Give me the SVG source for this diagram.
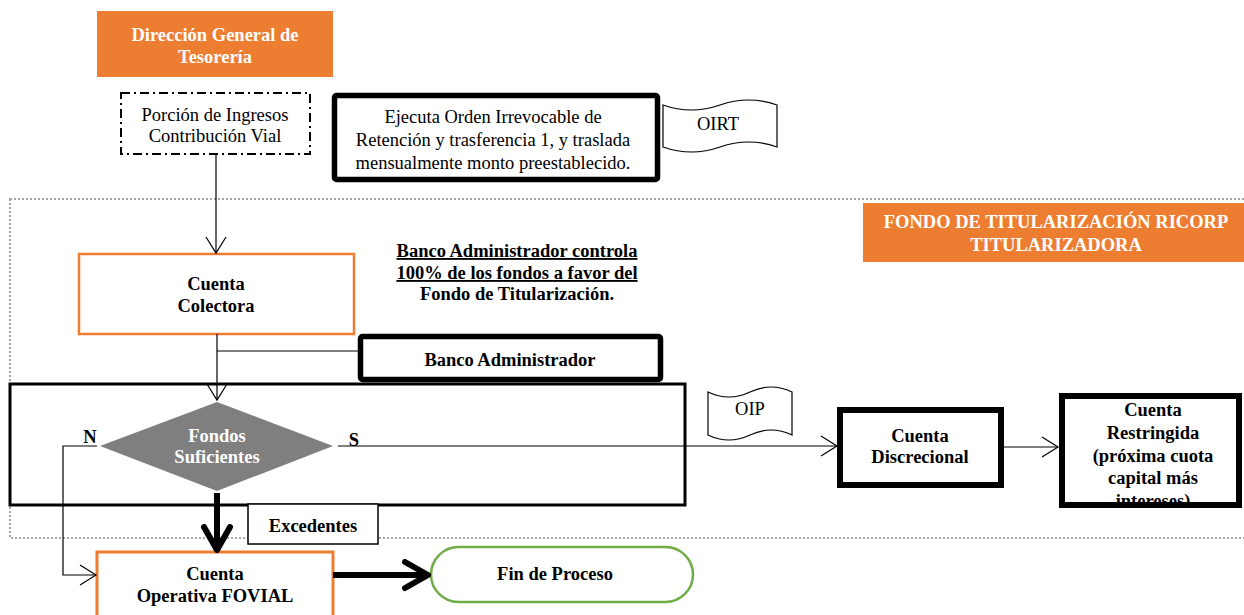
<svg xmlns="http://www.w3.org/2000/svg" width="1244" height="615" viewBox="0 0 1244 615">
<style>
text{font-family:"Liberation Serif","Times New Roman",serif;font-size:18.5px;fill:#000;text-anchor:middle}
.b{font-weight:bold}
.w{fill:#fff}
.u{text-decoration:underline}
.thin{fill:none;stroke:#000;stroke-width:1.2}
.thick{fill:none;stroke:#000;stroke-width:6}
.orange{fill:#fff;stroke:#ED7D31;stroke-width:2.5}
.heavy{fill:#fff;stroke:#000;stroke-width:5.5}
</style>
<defs>
<marker id="open" markerUnits="userSpaceOnUse" markerWidth="20" markerHeight="24" refX="17" refY="11" orient="auto">
<path d="M1,1 L17,11 L1,21" fill="none" stroke="#000" stroke-width="1.2"/>
</marker>
<marker id="bold" markerUnits="userSpaceOnUse" markerWidth="32" markerHeight="36" refX="26" refY="16" orient="auto">
<path d="M3,3 L26,16 L3,29" fill="none" stroke="#000" stroke-width="6" stroke-linecap="round" stroke-linejoin="round"/>
</marker>
<clipPath id="clipR"><rect x="1062" y="396" width="177" height="106"/></clipPath>
</defs>

<rect id="frame" x="10" y="199" width="1250" height="339" fill="none" stroke="#A6A6A6" stroke-width="2" stroke-dasharray="2 2"/>

<g id="dgt">
<rect x="97" y="11" width="236" height="66" fill="#ED7D31"/>
<text class="b w" x="215" y="41">Dirección General de</text>
<text class="b w" x="215" y="63">Tesorería</text>
</g>

<g id="porcion">
<rect x="121" y="93" width="189" height="61" fill="#fff" stroke="#000" stroke-width="2" stroke-dasharray="9 4 2 4"/>
<text x="215" y="121">Porción de Ingresos</text>
<text x="215" y="142">Contribución Vial</text>
</g>

<g id="ejecuta">
<rect class="heavy" x="334.5" y="95.5" width="323" height="84" rx="2"/>
<text x="493" y="123">Ejecuta Orden Irrevocable de</text>
<text x="493" y="146">Retención y trasferencia 1, y traslada</text>
<text x="493" y="169">mensualmente monto preestablecido.</text>
</g>

<g id="oirt">
<path d="M663,105 Q691.5,115 720,105 T777,105 L777,147 Q748.5,137 720,147 T663,147 Z" fill="#fff" stroke="#000" stroke-width="1.2"/>
<text x="718" y="130">OIRT</text>
</g>

<g id="fondo">
<rect x="863" y="203" width="385" height="59" fill="#ED7D31"/>
<text class="b w" x="1056" y="228">FONDO DE TITULARIZACIÓN RICORP</text>
<text class="b w" x="1056" y="251">TITULARIZADORA</text>
</g>

<g id="nota">
<text class="b u" x="517" y="257">Banco Administrador controla</text>
<text class="b u" x="517" y="279">100% de los fondos a favor del</text>
<text class="b" x="517" y="300">Fondo de Titularización.</text>
</g>

<g id="colectora">
<rect class="orange" x="79" y="254" width="275" height="80"/>
<text class="b" x="216" y="290">Cuenta</text>
<text class="b" x="216" y="312">Colectora</text>
</g>

<g id="bancoadmin">
<rect class="heavy" x="360.5" y="336.5" width="300" height="43" rx="2"/>
<text class="b" x="510" y="366">Banco Administrador</text>
</g>

<g id="banco">
<rect x="10" y="384" width="675" height="121" fill="none" stroke="#000" stroke-width="3"/>
</g>

<g id="decision">
<polygon points="100,446 217,402 333,446 217,491" fill="#7F7F7F"/>
<text class="b w" x="217" y="442">Fondos</text>
<text class="b w" x="217" y="463">Suficientes</text>
<text class="b" x="90" y="443">N</text>
<text class="b" x="354" y="446">S</text>
</g>

<g id="oip">
<path d="M708,392 Q729,402 750,392 T792,392 L792,435 Q771,425 750,435 T708,435 Z" fill="#fff" stroke="#000" stroke-width="1.2"/>
<text x="750" y="415">OIP</text>
</g>

<g id="discrecional">
<rect x="840" y="410" width="161" height="75" fill="#fff" stroke="#000" stroke-width="6"/>
<text class="b" x="920" y="442">Cuenta</text>
<text class="b" x="920" y="463">Discrecional</text>
</g>

<g id="restringida">
<rect x="1062" y="396" width="177" height="109" fill="#fff"/>
<g clip-path="url(#clipR)">
<text class="b" x="1153" y="416">Cuenta</text>
<text class="b" x="1153" y="439">Restringida</text>
<text class="b" x="1153" y="462">(próxima cuota</text>
<text class="b" x="1153" y="484">capital más</text>
<text class="b" x="1153" y="507">intereses)</text>
</g>
<rect x="1062" y="396" width="177" height="109" fill="none" stroke="#000" stroke-width="6"/>
</g>

<g id="excedentes">
<rect x="248" y="504" width="130" height="40" fill="#fff" stroke="#000" stroke-width="1.5"/>
<text class="b" x="313" y="532">Excedentes</text>
</g>

<g id="operativa">
<rect x="97" y="552" width="236" height="80" fill="#fff" stroke="#ED7D31" stroke-width="3"/>
<text class="b" x="215" y="580">Cuenta</text>
<text class="b" x="215" y="602">Operativa FOVIAL</text>
</g>

<g id="fin">
<rect x="431" y="547" width="262" height="55" rx="27.5" fill="#fff" stroke="#70AD47" stroke-width="2.5"/>
<text class="b" x="555" y="580">Fin de Proceso</text>
</g>

<g id="connectors">
<path class="thin" d="M216,154 V253" marker-end="url(#open)"/>
<path class="thin" d="M217,334 V400" marker-end="url(#open)"/>
<path class="thin" d="M217,351 H358"/>
<path class="thin" d="M97,446 H63 V575 H96" marker-end="url(#open)"/>
<path class="thin" d="M338,446 H837" marker-end="url(#open)"/>
<path class="thin" d="M1004,447 H1058" marker-end="url(#open)"/>
<path class="thick" d="M217,493 V550" marker-end="url(#bold)"/>
<path class="thick" d="M333,575 H428" marker-end="url(#bold)"/>
</g>
</svg>
